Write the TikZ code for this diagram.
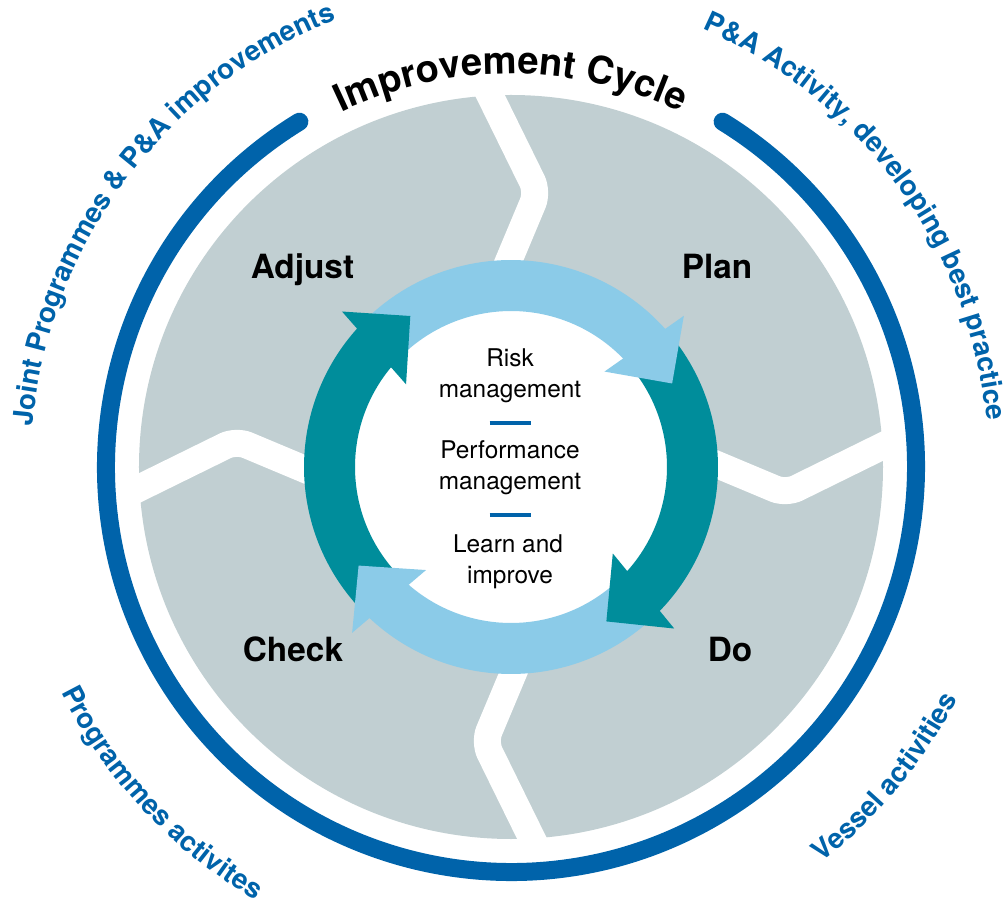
\documentclass[tikz,border=0pt]{standalone}
\usepackage{fontspec}
\setmainfont{TeX Gyre Heros}
\usepackage{xcolor}
\definecolor{cycleBlue}{RGB}{0, 99, 170}
\definecolor{cycleGray}{RGB}{193, 207, 210}
\definecolor{cycleSky}{RGB}{139, 203, 232}
\definecolor{cycleTeal}{RGB}{0, 141, 155}
\usetikzlibrary{calc, decorations.text}

\begin{document}
\begin{tikzpicture}[x=0.75pt, y=0.75pt,
  phase/.style={font=\fontsize{25}{30}\selectfont\bfseries, anchor=base, inner sep=0pt},
  focus/.style={font=\fontsize{18.3}{23}\selectfont, anchor=base, inner sep=0pt},
  rule/.style={cycleBlue, line width=2.5pt},
  gap/.style={white, line width=20.25pt, rounded corners=9pt},
  shaft/.style={line width=38.25pt},
  sidetext/.style={decorate, decoration={text along path, text align=center,
      text={|\fontsize{20.8}{24}\selectfont\bfseries\color{cycleBlue}|#1}}},
  titletext/.style={decorate, decoration={text along path, text align=center,
      text={|\fontsize{28.5}{32}\selectfont\bfseries|#1}}},
]
  \useasboundingbox (-511,-439) rectangle (495,467);

  % four grey quarters
  \fill[cycleGray] (0,0) circle[radius=372];
  \foreach \r in {0,90,180,270}
    \draw[gap, rotate=\r] (-24.4,378.5) -- (26.5,275) -- (-8.5,191.5);

  % outer ring
  \draw[cycleBlue, line width=13.5pt, line cap=round]
    (121.5:405) arc[start angle=121.5, end angle=418.5, radius=405];

  \fill[white] (0,0) circle[radius=160];

  % cycle arrows
  \draw[shaft, cycleSky] (133.5:181.5) arc[start angle=133.5, end angle=39.8, radius=181.5];
  \draw[shaft, cycleTeal] (37.3:181.5) arc[start angle=37.3, end angle=-46.1, radius=181.5];
  \draw[shaft, cycleSky] (-48.6:181.5) arc[start angle=-48.6, end angle=-135.2, radius=181.5];
  \draw[shaft, cycleTeal] (-137.7:181.5) arc[start angle=-137.7, end angle=-224, radius=181.5];
  \foreach \b/\t/\c in {42.8/27.4/cycleSky, -43.1/-58.3/cycleTeal,
                        227.8/212.9/cycleSky, 139/123.7/cycleTeal}
    \fill[\c] ($(\b:181.5)+({(\b+\t)/2}:48.5)$) -- (\t:181.5)
      -- ($(\b:181.5)-({(\b+\t)/2}:48.5)$) -- cycle;

  \node[phase] (adjust) at (-208.5,188.7) {Adjust};
  \node[phase] (plan) at (206,188.7) {Plan};
  \node[phase] (check) at (-218,-194.7) {Check};
  \node[phase] (do) at (219,-194.7) {Do};

  \node[focus] (risk) at (-1,100) {Risk};
  \node[focus] (riskmgmt) at (-1,69) {management};
  \draw[rule] (-21.5,44) -- (19.5,44);
  \node[focus] (perf) at (-1,8) {Performance};
  \node[focus] (perfmgmt) at (-1,-23) {management};
  \draw[rule] (-21.5,-48) -- (19.5,-48);
  \node[focus] (learn) at (-3,-85) {Learn and};
  \node[focus] (improve) at (-1,-116) {improve};

  % texts round the ring
  \path[titletext={Improvement Cycle}]
    (130:393) arc[start angle=130, end angle=50, radius=393];
  \path[sidetext={Joint Programmes {\&} P{\&}A improvements}]
    (188.25:480) arc[start angle=188.25, end angle=98.25, radius=480];
  \path[sidetext={P{\&}A Activity, developing best practice}]
    (81:478) arc[start angle=81, end angle=-9, radius=478];
  \path[sidetext={Programmes activites}]
    (178:503) arc[start angle=178, end angle=268, radius=503];
  \path[sidetext={Vessel activities}]
    (-84.7:503) arc[start angle=-84.7, end angle=5.3, radius=503];
\end{tikzpicture}
\end{document}
